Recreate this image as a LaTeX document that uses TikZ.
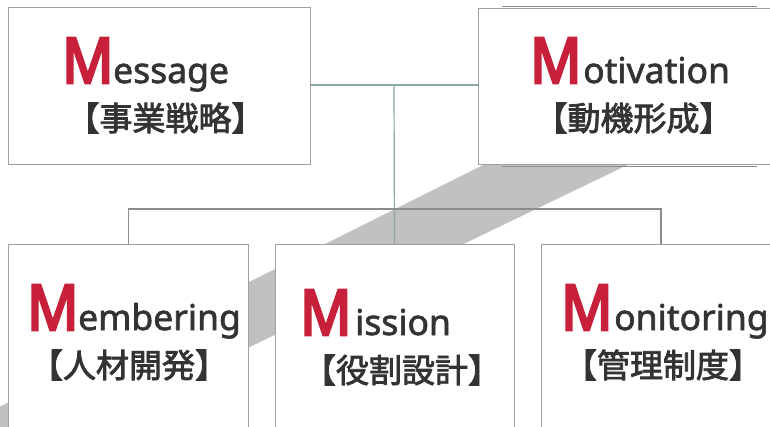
\documentclass[tikz,border=0pt]{standalone}
\usepackage{fontspec}
\newfontfamily\mfont{Noto Sans}[FakeBold=4.5]
\newfontfamily\latfont{Noto Sans}[FakeBold=1.8]
\newfontfamily\jpfont{Noto Sans CJK JP}[FakeBold=2.4]
\definecolor{mred}{HTML}{C8203A}
\definecolor{tgray}{HTML}{333333}
\definecolor{bgray}{HTML}{A0A0A0}
\definecolor{lgreen}{HTML}{8AA89B}
\definecolor{lgray}{HTML}{8C8C8C}
\definecolor{band}{HTML}{C0C0C0}
\tikzset{
  box/.style={draw=bgray, line width=1pt, fill=white, inner sep=0pt},
  mnode/.style={anchor=base west, inner sep=0pt, text=mred, font=\mfont\fontsize{63}{63}\selectfont, xscale=0.9},
  rnode/.style={anchor=base west, inner sep=0pt, text=tgray, font=\latfont\fontsize{35.5}{35.5}\selectfont},
  jpnode/.style={inner sep=0pt, text=tgray, font=\jpfont\fontsize{33}{33}\selectfont},
  conn/.style={line width=1.2pt},
}
\begin{document}
\begin{tikzpicture}[x=1pt,y=-1pt]
\useasboundingbox (0,0) rectangle (770,427);
\clip (0,0) rectangle (770,427);
% gray diagonal band
\fill[band] (-20,416.5) -- (700,56.5) -- (700,130) -- (-20,477) -- cycle;
% shadow lines of Motivation box
\draw[lgray, line width=1pt] (502,6.8) -- (757,6.8);
\draw[lgray, line width=1pt] (502,166.5) -- (757,166.5);
% boxes
\node[box, minimum width=302pt, minimum height=157pt] (msg) at (159,86.5) {};
\node[box, minimum width=300pt, minimum height=156.5pt] (mot) at (628,86.75) {};
\coordinate (j) at (394,85);
\coordinate (h) at (394,209);
\node[box, minimum width=239.5pt, minimum height=230pt] (mem) at (128.25,360) {};
\node[box, minimum width=239pt, minimum height=230pt] (mis) at (394.5,360) {};
\node[box, minimum width=240pt, minimum height=230pt] (mon) at (661,360) {};
% connectors
\draw[conn, lgreen] (msg.east|-j) -- (mot.west|-j);
\draw[conn, lgreen] (j) -- (mis.north);
\draw[conn, lgray] (mem.north) |- (mon.north|-h) -- (mon.north);
% titles
\node[mnode] (msgm) at (62,83) {M};
\node[rnode] (msgr) at (113,83) {essage};
\node[jpnode] (msgj) at (165.5,118) {【事業戦略】};
\node[mnode] (motm) at (530,83) {M};
\node[rnode] (motr) at (583,83) {otivation};
\node[jpnode] (motj) at (633.5,118) {【動機形成】};
\node[mnode] (memm) at (27,330) {M};
\node[rnode] (memr) at (78,330) {embering};
\node[jpnode] (memj) at (129,365) {【人材開発】};
\node[mnode] (mism) at (300,335) {M};
\node[rnode] (misr) at (355,335) {ission};
\node[jpnode] (misj) at (402,370) {【役割設計】};
\node[mnode] (monm) at (561,330) {M};
\node[rnode] (monr) at (614,330) {onitoring};
\node[jpnode] (monj) at (663,365) {【管理制度】};
\end{tikzpicture}
\end{document}
